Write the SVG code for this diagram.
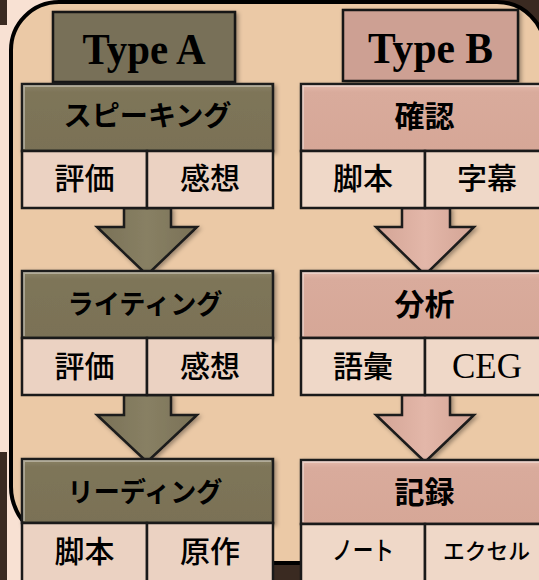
<svg xmlns="http://www.w3.org/2000/svg" width="539" height="580" viewBox="0 0 539 580">
<style>
.hdr{stroke:#151515;stroke-width:2.5}
.box{stroke:#1a1a1a;stroke-width:2.5}
.cell{stroke:#1a1a1a;stroke-width:2.5}
.ca{fill:#ebd2c2}
.cb{fill:#efd8c8}
.lat{font-family:"Liberation Serif",serif;font-weight:bold;fill:#000;text-anchor:middle}
.jt{font-family:"Noto Sans CJK JP","Noto Sans CJK SC",sans-serif;font-weight:bold;fill:#000;text-anchor:middle}
.jc{font-family:"Noto Sans CJK JP","Noto Sans CJK SC",sans-serif;font-weight:500;fill:#000;text-anchor:middle}
.ser{font-family:"Liberation Serif",serif;fill:#000;text-anchor:middle}
.arr{stroke:#1a1a1a;stroke-width:2.5;stroke-linejoin:miter}
.hl{fill:none;stroke:#fff;stroke-opacity:0.35;stroke-width:2}
</style>
<defs>
<filter id="sh" x="-10%" y="-10%" width="130%" height="130%">
<feDropShadow dx="2" dy="2" stdDeviation="2" flood-color="#000" flood-opacity="0.35"/>
</filter>
<linearGradient id="ga" x1="0" y1="0" x2="0" y2="1">
<stop offset="0" stop-color="#8c8366"/>
<stop offset="0.12" stop-color="#7e7559"/>
<stop offset="1" stop-color="#7a7156"/>
</linearGradient>
<linearGradient id="gb" x1="0" y1="0" x2="0" y2="1">
<stop offset="0" stop-color="#e6bcae"/>
<stop offset="0.12" stop-color="#d9ab9c"/>
<stop offset="1" stop-color="#d6a797"/>
</linearGradient>
<linearGradient id="gaa" x1="0" y1="0" x2="1" y2="0">
<stop offset="0" stop-color="#7a7156"/>
<stop offset="0.5" stop-color="#888064"/>
<stop offset="1" stop-color="#7a7156"/>
</linearGradient>
<linearGradient id="gba" x1="0" y1="0" x2="1" y2="0">
<stop offset="0" stop-color="#d3a495"/>
<stop offset="0.5" stop-color="#e3b7a9"/>
<stop offset="1" stop-color="#d3a495"/>
</linearGradient>
</defs>

<!-- backdrop -->
<rect x="0" y="0" width="539" height="580" fill="#f8e1d3"/>
<rect x="0" y="0" width="7" height="25" fill="#3a2a21"/>
<rect x="0" y="452" width="7" height="128" fill="#3a2a21"/>
<rect x="24" y="555" width="515" height="25" fill="#3a2a21"/>
<rect x="470" y="0" width="69" height="70" fill="#3a2a21"/>
<path d="M11,50 A48,48 0 0 1 59,2 L497,2 A48,48 0 0 1 545,50 L545,515 A48,48 0 0 1 497,563 L122,563 A111,76 0 0 1 11,487 Z" fill="#ebc9a6" stroke="#000" stroke-width="4"/>

<!-- connectors -->
<g id="connectors">
<polygon class="arr" fill="url(#gaa)" filter="url(#sh)" points="124,208 171,208 171,227 197,227 147,275 97,227 124,227"/>
<polygon class="arr" fill="url(#gaa)" filter="url(#sh)" points="124,395 171,395 171,415 197,415 147,462 97,415 124,415"/>
<polygon class="arr" fill="url(#gba)" filter="url(#sh)" points="402,208 450,208 450,227 474,227 425,275 376,227 402,227"/>
<polygon class="arr" fill="url(#gba)" filter="url(#sh)" points="402,395 450,395 450,415 474,415 425,462 376,415 402,415"/>
</g>

<!-- headers -->
<g id="typeA">
<rect class="hdr" x="53" y="12" width="182" height="70" fill="#787058" filter="url(#sh)"/>
<text class="lat" x="144" y="64" font-size="45" textLength="123" lengthAdjust="spacingAndGlyphs">Type A</text>
</g>
<g id="typeB">
<rect class="hdr" x="343" y="10" width="175" height="71" fill="#cda093" filter="url(#sh)"/>
<text class="lat" x="430.5" y="63" font-size="45" textLength="125" lengthAdjust="spacingAndGlyphs">Type B</text>
</g>

<!-- Type A column -->
<g id="a1">
<rect class="box" x="22" y="84" width="251" height="67" fill="url(#ga)" filter="url(#sh)"/>
<polyline class="hl" points="24,149 24,86 271,86"/>
<text class="jt" x="147.5" y="126" font-size="28" textLength="168" lengthAdjust="spacingAndGlyphs">スピーキング</text>
<rect class="cell ca" x="22" y="151" width="125" height="57"/>
<rect class="cell ca" x="147" y="151" width="126" height="57"/>
<text class="jc" x="84.5" y="189" font-size="30">評価</text>
<text class="jc" x="210" y="189" font-size="30">感想</text>
</g>
<g id="a2">
<rect class="box" x="22" y="271" width="251" height="67" fill="url(#ga)" filter="url(#sh)"/>
<polyline class="hl" points="24,336 24,273 271,273"/>
<text class="jt" x="145" y="314" font-size="27" textLength="155" lengthAdjust="spacingAndGlyphs">ライティング</text>
<rect class="cell ca" x="22" y="338" width="125" height="57"/>
<rect class="cell ca" x="147" y="338" width="126" height="57"/>
<text class="jc" x="84.5" y="377" font-size="30">評価</text>
<text class="jc" x="210" y="377" font-size="30">感想</text>
</g>
<g id="a3">
<rect class="box" x="22" y="459" width="251" height="64" fill="url(#ga)" filter="url(#sh)"/>
<polyline class="hl" points="24,521 24,461 271,461"/>
<text class="jt" x="145" y="502" font-size="27" textLength="155" lengthAdjust="spacingAndGlyphs">リーディング</text>
<rect class="cell ca" x="22" y="523" width="125" height="62"/>
<rect class="cell ca" x="147" y="523" width="126" height="62"/>
<text class="jc" x="84.5" y="562" font-size="30">脚本</text>
<text class="jc" x="210" y="562" font-size="30">原作</text>
</g>

<!-- Type B column -->
<g id="b1">
<rect class="box" x="301" y="84" width="247" height="67" fill="url(#gb)" filter="url(#sh)"/>
<polyline class="hl" points="303,149 303,86 546,86"/>
<text class="jt" x="424.5" y="127" font-size="30">確認</text>
<rect class="cell cb" x="301" y="151" width="124" height="57"/>
<rect class="cell cb" x="425" y="151" width="123" height="57"/>
<text class="jc" x="363" y="189" font-size="30">脚本</text>
<text class="jc" x="487" y="189" font-size="30">字幕</text>
</g>
<g id="b2">
<rect class="box" x="301" y="271" width="247" height="67" fill="url(#gb)" filter="url(#sh)"/>
<polyline class="hl" points="303,336 303,273 546,273"/>
<text class="jt" x="424.5" y="315" font-size="30">分析</text>
<rect class="cell cb" x="301" y="338" width="124" height="57"/>
<rect class="cell cb" x="425" y="338" width="123" height="57"/>
<text class="jc" x="363" y="377" font-size="30">語彙</text>
<text class="ser" x="487" y="378" font-size="35">CEG</text>
</g>
<g id="b3">
<rect class="box" x="301" y="460" width="247" height="64" fill="url(#gb)" filter="url(#sh)"/>
<polyline class="hl" points="303,522 303,462 546,462"/>
<text class="jt" x="424.5" y="503" font-size="30">記録</text>
<rect class="cell cb" x="301" y="524" width="124" height="62"/>
<rect class="cell cb" x="425" y="524" width="123" height="62"/>
<text class="jc" x="363" y="560" font-size="26" textLength="62" lengthAdjust="spacingAndGlyphs">ノート</text>
<text class="jc" x="486.5" y="559" font-size="22" textLength="87" lengthAdjust="spacingAndGlyphs">エクセル</text>
</g>
</svg>
